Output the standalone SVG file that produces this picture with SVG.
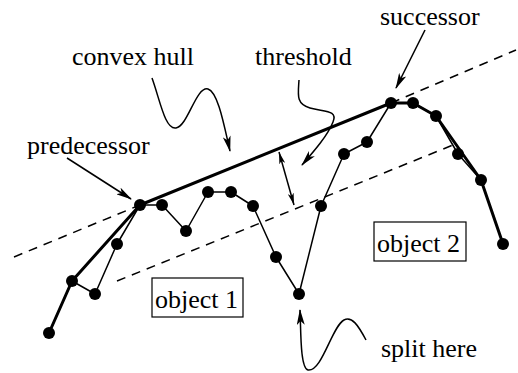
<svg xmlns="http://www.w3.org/2000/svg" width="518" height="373" viewBox="0 0 518 373">
<defs>
<style>
.thin{fill:none;stroke:#000;stroke-width:1.5;stroke-linejoin:round}
.thick{fill:none;stroke:#000;stroke-width:3;stroke-linejoin:round;stroke-linecap:round}
.dash{fill:none;stroke:#000;stroke-width:1.5;stroke-dasharray:9 7}
.ptr{fill:none;stroke:#000;stroke-width:1.5;marker-end:url(#ah)}
.box{fill:none;stroke:#000;stroke-width:1.2}
.pt{fill:#000}
</style>
<marker id="ah" viewBox="0 0 16 8" refX="15" refY="4" markerWidth="16" markerHeight="8" markerUnits="userSpaceOnUse" orient="auto">
<path d="M0,0 L16,4 L0,8 L4,4 z" fill="#000"/>
</marker>
<marker id="sh" viewBox="0 0 12 6" refX="12" refY="3" markerWidth="12" markerHeight="6" markerUnits="userSpaceOnUse" orient="auto-start-reverse">
<path d="M0,0 L12,3 L0,6 L3,3 z" fill="#000"/>
</marker>
</defs>
<rect width="518" height="373" fill="#fff"/>
<g id="connectors">
<path class="dash" d="M14,257 L140,205 M391,103 L516,50"/>
<path class="dash" d="M117,281 L453,145"/>
<polyline class="thin" points="49,333 72,281 95,294 117,244 140,205 162,205 186,231 208,192 231,192 253,206 276,257 299,294 321,206 344,154 367,142 391,103 413,103 436,116 458,154 481,180 503,244"/>
<polyline class="thick" points="49,333 72,281 140,205 391,103 413,103 436,116 481,180 503,244"/>
<line class="thin" x1="279" y1="152" x2="294" y2="205" style="marker-start:url(#sh);marker-end:url(#sh)"/>
<path class="ptr" d="M152,78 C160,100 165,130 176,128 C188,126 196,86 208,89 C218,92 224,125 230,151"/>
<path class="ptr" d="M299,80 C298,95 296,104 310,108 C325,112 338,110 333,122 C328,135 315,150 302,165"/>
<path class="ptr" d="M366,340 C358,325 352,316 344,320 C332,326 322,372 308,370 C300,368 301,330 300,310"/>
<line class="ptr" x1="67" y1="158" x2="131" y2="199"/>
<line class="ptr" x1="425" y1="30" x2="396" y2="88"/>
</g>
<g id="points">
<circle class="pt" cx="49" cy="333" r="6"/>
<circle class="pt" cx="72" cy="281" r="6"/>
<circle class="pt" cx="95" cy="294" r="6"/>
<circle class="pt" cx="117" cy="244" r="6"/>
<circle class="pt" cx="140" cy="205" r="6"/>
<circle class="pt" cx="162" cy="205" r="6"/>
<circle class="pt" cx="186" cy="231" r="6"/>
<circle class="pt" cx="208" cy="192" r="6"/>
<circle class="pt" cx="231" cy="192" r="6"/>
<circle class="pt" cx="253" cy="206" r="6"/>
<circle class="pt" cx="276" cy="257" r="6"/>
<circle class="pt" cx="299" cy="294" r="6"/>
<circle class="pt" cx="321" cy="206" r="6"/>
<circle class="pt" cx="344" cy="154" r="6"/>
<circle class="pt" cx="367" cy="142" r="6"/>
<circle class="pt" cx="391" cy="103" r="6"/>
<circle class="pt" cx="413" cy="103" r="6"/>
<circle class="pt" cx="436" cy="116" r="6"/>
<circle class="pt" cx="458" cy="154" r="6"/>
<circle class="pt" cx="481" cy="180" r="6"/>
<circle class="pt" cx="503" cy="244" r="6"/>
</g>
<g id="convex-hull"><text x="72" y="65" font-family="Liberation Serif" font-size="26">convex hull</text></g>
<g id="threshold"><text x="255" y="65" font-family="Liberation Serif" font-size="26">threshold</text></g>
<g id="successor"><text x="380" y="25" font-family="Liberation Serif" font-size="26">successor</text></g>
<g id="predecessor"><text x="27" y="154" font-family="Liberation Serif" font-size="26">predecessor</text></g>
<g id="object1"><rect class="box" x="152" y="278" width="91" height="39"/><text x="155" y="308" font-family="Liberation Serif" font-size="26">object 1</text></g>
<g id="object2"><rect class="box" x="374" y="222" width="92" height="39"/><text x="377" y="252" font-family="Liberation Serif" font-size="26">object 2</text></g>
<g id="split-here"><text x="381" y="357" font-family="Liberation Serif" font-size="26">split here</text></g>
</svg>
